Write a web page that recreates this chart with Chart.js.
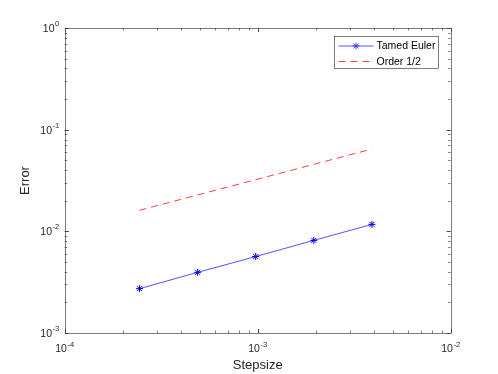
<!DOCTYPE html>
<html>
<head>
<meta charset="utf-8">
<script src="https://cdn.jsdelivr.net/npm/chart.js@4/dist/chart.umd.min.js"></script>
<style>
  html, body { margin: 0; padding: 0; background: #fff; }
  #wrap { width: 498px; height: 374px; }
</style>
</head>
<body>
<div id="wrap"><canvas id="errChart" width="498" height="374"></canvas></div>
<script>
// step sizes (2^-12 ... 2^-8) and measured errors
const stepsizes = [2.441e-4, 4.883e-4, 9.766e-4, 1.953e-3, 3.906e-3];
const tamedEuler = [2.73e-3, 3.95e-3, 5.65e-3, 8.15e-3, 1.17e-2];
const orderHalf = [0.0161, 0.0228, 0.0322, 0.0456, 0.0645];
const xTickExps = [-4, -3, -2];
const yTickExps = [-3, -2, -1, 0];
const seriesNames = ["Tamed Euler", "Order 1/2"];

const FONT = "'Liberation Sans', Arial, Helvetica, sans-serif";
const AXIS_COLOR = "#262626";

function pts(xs, ys) {
  return xs.map((x, i) => ({ x: x, y: ys[i] }));
}

// draws "10" with a raised exponent, anchored by align
function drawPow(ctx, exp, x, y, align) {
  ctx.font = "10.5px " + FONT;
  const wBase = ctx.measureText("10").width;
  ctx.font = "7.5px " + FONT;
  const wExp = ctx.measureText(String(exp)).width;
  const total = wBase + wExp + 0.5;
  let left = x;
  if (align === "center") left = x - total / 2;
  if (align === "right") left = x - total;
  ctx.textAlign = "left";
  ctx.textBaseline = "middle";
  ctx.font = "10.5px " + FONT;
  ctx.fillText("10", left, y);
  ctx.font = "7.5px " + FONT;
  ctx.fillText(String(exp), left + wBase + 0.5, y - 5);
}

const matlabAxes = {
  id: "matlabAxes",
  afterDatasetsDraw(chart) {
    const ctx = chart.ctx;
    const xs = chart.scales.x, ys = chart.scales.y;
    const a = chart.chartArea;
    ctx.save();
    ctx.strokeStyle = AXIS_COLOR;
    ctx.lineWidth = 0.6;

    // box
    ctx.strokeRect(Math.round(a.left) + 0.5, Math.round(a.top) + 0.5,
      Math.round(a.right) - Math.round(a.left), Math.round(a.bottom) - Math.round(a.top));

    // ticks, inside on all sides
    ctx.beginPath();
    for (let e = -4; e < -2; e++) {
      for (let m = 1; m <= 10; m++) {
        const v = m * Math.pow(10, e);
        const px = Math.round(xs.getPixelForValue(v)) + 0.5;
        const len = (m === 1 || m === 10) ? 4 : 2.5;
        ctx.moveTo(px, a.bottom); ctx.lineTo(px, a.bottom - len);
        ctx.moveTo(px, a.top); ctx.lineTo(px, a.top + len);
      }
    }
    for (let e = -3; e < 0; e++) {
      for (let m = 1; m <= 10; m++) {
        const v = m * Math.pow(10, e);
        const py = Math.round(ys.getPixelForValue(v)) + 0.5;
        const len = (m === 1 || m === 10) ? 4 : 2.5;
        ctx.moveTo(a.left, py); ctx.lineTo(a.left + len, py);
        ctx.moveTo(a.right, py); ctx.lineTo(a.right - len, py);
      }
    }
    ctx.stroke();

    // tick labels
    ctx.fillStyle = AXIS_COLOR;
    xTickExps.forEach(e => {
      drawPow(ctx, e, xs.getPixelForValue(Math.pow(10, e)), a.bottom + 16.5, "center");
    });
    yTickExps.forEach(e => {
      drawPow(ctx, e, a.left - 5.5, ys.getPixelForValue(Math.pow(10, e)) + 1, "right");
    });

    // axis titles
    ctx.font = "13px " + FONT;
    ctx.textAlign = "center";
    ctx.textBaseline = "middle";
    ctx.fillText("Stepsize", (a.left + a.right) / 2, a.bottom + 32);
    ctx.save();
    ctx.translate(a.left - 39, (a.top + a.bottom) / 2);
    ctx.rotate(-Math.PI / 2);
    ctx.fillText("Error", 0, 0);
    ctx.restore();

    // legend
    const lx = 334.5, ly = 36.5, lw = 104, lh = 32;
    ctx.fillStyle = "#fff";
    ctx.fillRect(lx, ly, lw, lh);
    ctx.strokeStyle = AXIS_COLOR;
    ctx.lineWidth = 0.6;
    ctx.strokeRect(lx, ly, lw, lh);
    const rows = [ly + 9.5, ly + 25];
    chart.data.datasets.forEach((ds, i) => {
      const y = rows[i];
      ctx.strokeStyle = ds.borderColor;
      ctx.lineWidth = 1;
      ctx.setLineDash(ds.borderDash || []);
      ctx.beginPath();
      ctx.moveTo(lx + 4, y); ctx.lineTo(lx + 39, y);
      ctx.stroke();
      ctx.setLineDash([]);
      if (ds.pointRadius > 0) {
        Chart.helpers.drawPoint(ctx, {
          pointStyle: ds.pointStyle, radius: ds.pointRadius,
          borderWidth: 1, borderColor: ds.pointBorderColor
        }, lx + 21.5, y);
      }
      ctx.fillStyle = "#000";
      ctx.font = "10.5px " + FONT;
      ctx.textAlign = "left";
      ctx.textBaseline = "middle";
      ctx.fillText(ds.label, lx + 42, y + 0.5);
    });
    ctx.restore();
  }
};

new Chart(document.getElementById("errChart"), {
  type: "line",
  data: {
    datasets: [
      {
        label: seriesNames[0],
        data: pts(stepsizes, tamedEuler),
        borderColor: "rgba(40,40,255,0.8)",
        borderWidth: 1,
        pointStyle: "star",
        pointRadius: 3.5,
        pointBorderColor: "#0000ff",
        pointBorderWidth: 1,
        pointBackgroundColor: "#0000ff",
        tension: 0
      },
      {
        label: seriesNames[1],
        data: pts(stepsizes, orderHalf),
        borderColor: "rgba(255,40,40,0.9)",
        borderWidth: 1,
        borderDash: [7, 5],
        pointRadius: 0,
        tension: 0
      }
    ]
  },
  options: {
    responsive: false,
    animation: false,
    layout: { padding: { top: 28, right: 47.3, left: 0, bottom: 0 } },
    plugins: { legend: { display: false }, tooltip: { enabled: false } },
    scales: {
      x: {
        type: "logarithmic", min: 1e-4, max: 1e-2,
        ticks: { display: false }, grid: { display: false }, border: { display: false },
        afterFit: s => { s.height = 41; }
      },
      y: {
        type: "logarithmic", min: 1e-3, max: 1,
        ticks: { display: false }, grid: { display: false }, border: { display: false },
        afterFit: s => { s.width = 64.7; }
      }
    }
  },
  plugins: [matlabAxes]
});
</script>
</body>
</html>
